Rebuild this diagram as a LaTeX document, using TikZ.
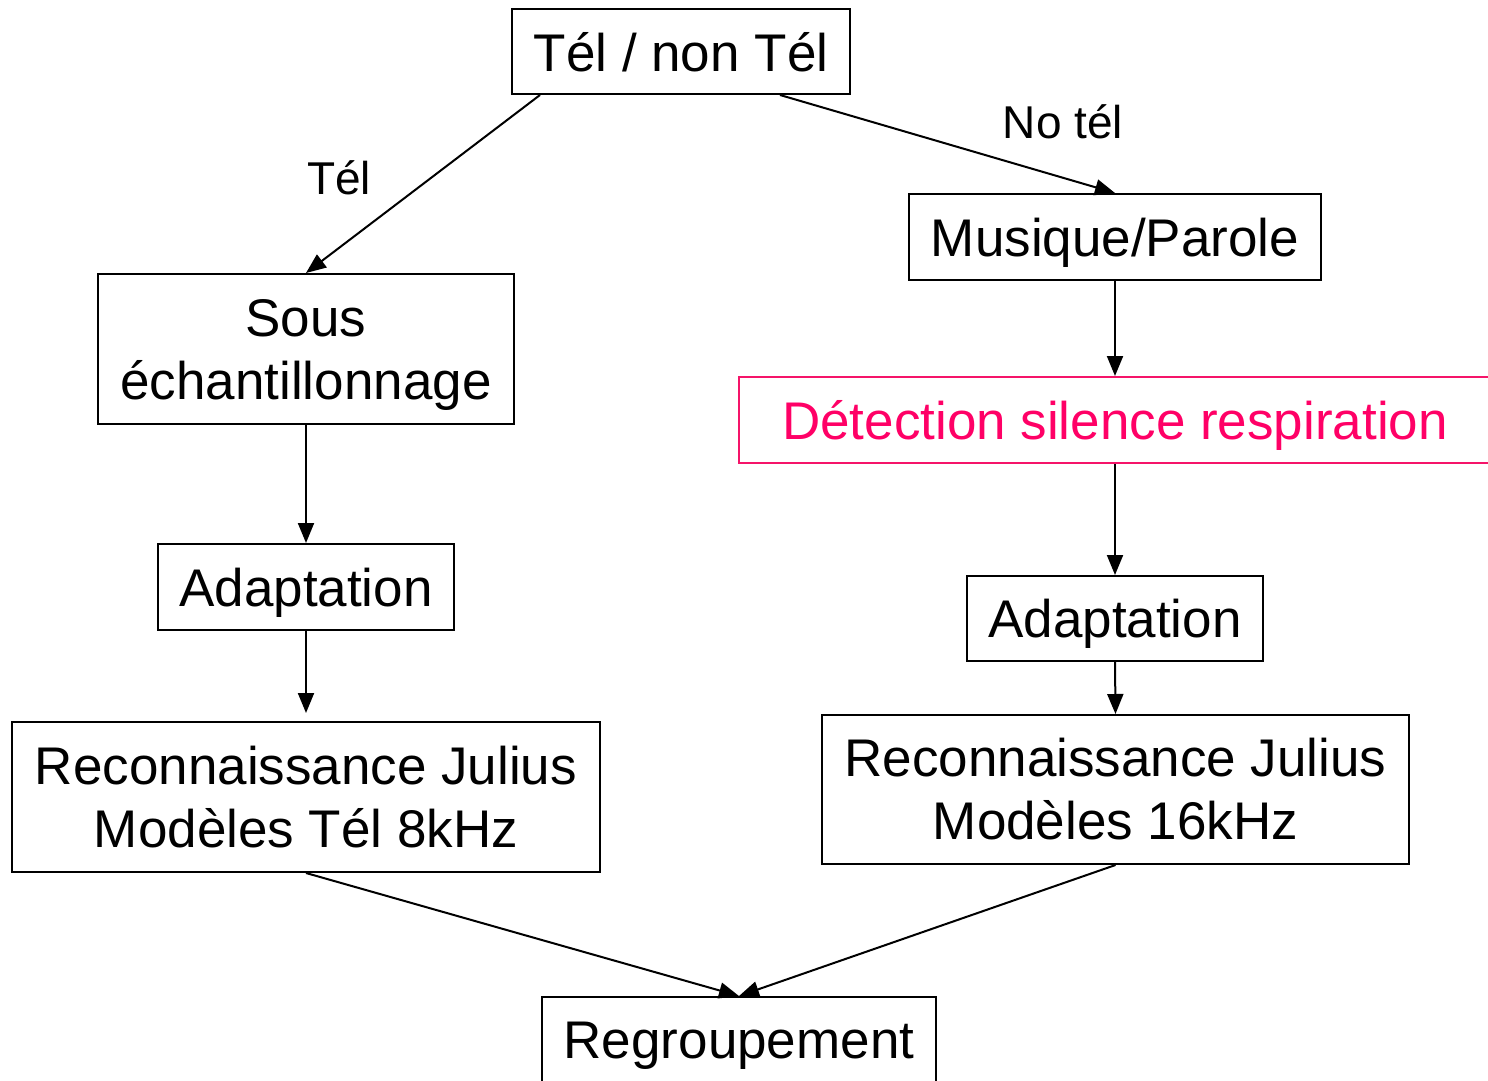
\documentclass[tikz,border=0pt]{standalone}
\usepackage{fontspec}
\setmainfont{Liberation Sans}
\usetikzlibrary{arrows.meta}
\definecolor{pinktxt}{RGB}{255,0,102}
\definecolor{pinkline}{RGB}{245,20,105}
\begin{document}
\begin{tikzpicture}[x=0.5pt,y=-0.5pt,
  box/.style={draw=black,line width=1pt,inner sep=0pt,font=\fontsize{26.5}{31.5}\selectfont,align=center},
  onebox/.style={box,text depth=0pt},
  lbl/.style={font=\fontsize{23}{27}\selectfont,inner sep=0pt,text depth=0pt},
  arr/.style={line width=1pt,-{Triangle[length=10pt,width=8pt]}}]
\useasboundingbox (0,0) rectangle (1488,1081);
\clip (0,0) rectangle (1488,1081);
\node[onebox,minimum width=169pt,minimum height=42.5pt] (top) at (681,51.5) {Tél / non Tél};
\node[box,text depth=0pt,minimum width=208pt,minimum height=75pt] (sous) at (306,349) {Sous\\échantillonnage};
\node[onebox,minimum width=148pt,minimum height=43pt] (adL) at (306,587) {Adaptation};
\node[box,minimum width=294pt,minimum height=75pt] (recL) at (306,797) {Reconnaissance Julius\\Modèles Tél 8kHz};
\node[onebox,minimum width=206pt,minimum height=43pt] (mus) at (1115,237) {Musique/Parole};
\node[onebox,draw=pinkline,text=pinktxt,minimum width=376pt,minimum height=43pt] (det) at (1115,420) {Détection silence respiration};
\node[onebox,minimum width=148pt,minimum height=42.5pt] (adR) at (1115,618.5) {Adaptation};
\node[box,minimum width=293.5pt,minimum height=74.5pt] (recR) at (1115.5,789.5) {Reconnaissance Julius\\Modèles 16kHz};
\node[onebox,minimum width=197pt,minimum height=43pt] (reg) at (739,1040) {Regroupement};
\node[lbl] (ltel) at (339,178) {Tél};
\node[lbl] (lno) at (1063,122) {No tél};
\draw[arr] ([xshift=14.5pt]top.south west) -- (sous.north);
\draw[arr] ([xshift=49.5pt]top.south) -- (mus.north);
\draw[arr] (sous.south) -- (adL.north);
\draw[arr,shorten >=4pt] (adL.south) -- (recL.north);
\draw[arr] (mus.south) -- (det.north);
\draw[arr] (det.south) -- (adR.north);
\draw[arr] (adR.south) -- (recR.north);
\draw[arr] (recL.south) -- (reg.north);
\draw[arr] (recR.south) -- (reg.north);
\end{tikzpicture}
\end{document}
